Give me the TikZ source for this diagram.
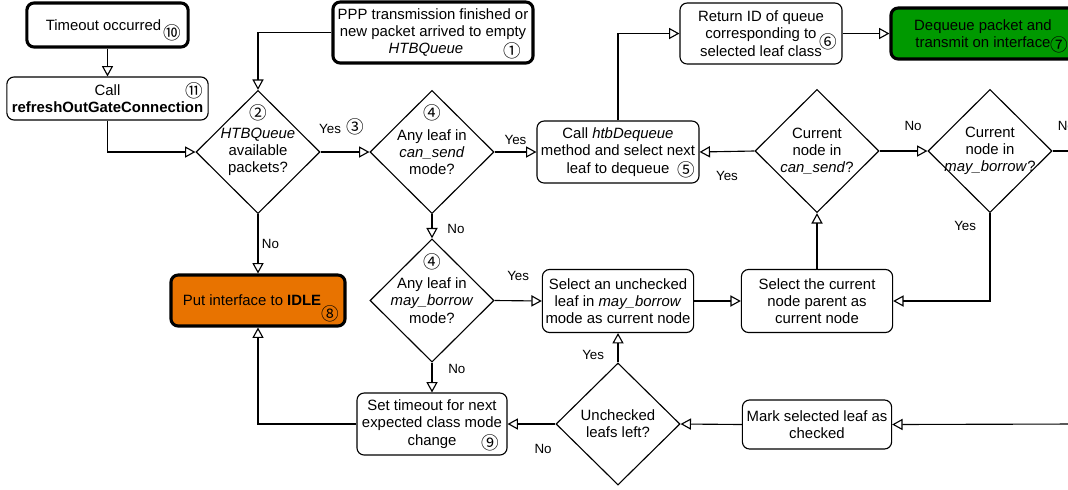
\documentclass[tikz,border=0pt]{standalone}
\usepackage{fontspec}
\setmainfont{Liberation Sans}
\newfontfamily\circfont{Noto Sans CJK SC}
\usepackage{tikz}
\usetikzlibrary{shapes.geometric, arrows.meta}

\definecolor{sendgreen}{RGB}{0,153,0}
\definecolor{idleorange}{RGB}{232,115,0}

\tikzset{
  box/.style={draw, rounded corners=0.18cm, align=center, inner sep=1pt, line width=0.8pt, font=\fontsize{10.6}{12.3}\selectfont},
  event/.style={box, line width=2.2pt},
  decision/.style={diamond, draw, line width=0.8pt, inner sep=0pt, minimum width=3.1cm, minimum height=3.08cm},
  inside/.style={align=center, inner sep=0pt, font=\fontsize{10.6}{12.3}\selectfont},
  num/.style={inner sep=0pt, font=\circfont\fontsize{12.5}{12.5}\selectfont},
  lbl/.style={inner sep=0pt, font=\fontsize{9.5}{11}\selectfont},
  flow/.style={line width=0.8pt, -{Triangle[open, length=0.26cm, width=0.28cm]}}
}

\begin{document}
\begin{tikzpicture}[x=0.025cm, y=-0.025cm]
\useasboundingbox (0,0) rectangle (1068,489);
\clip (0,0) rectangle (1068,489);

% start events
\node[event, minimum width=4.03cm, minimum height=1.1cm] (timeout) at (107.5,25) {Timeout occurred\hspace*{0.2cm}};
\node[event, minimum width=5cm, minimum height=1.525cm] (ppp) at (433,32.5) {PPP transmission finished or\\new packet arrived to empty\\\textit{HTBQueue}\hspace*{0.35cm}};
\node[box, minimum width=5.03cm, minimum height=1.075cm] (refresh) at (107.5,98.5) {Call\\\textbf{refreshOutGateConnection}};

% decisions
\node[decision, label={[inside]center:\textit{HTBQueue}\\available\\packets?}] (hasPkt) at (258,152) {};
\node[decision, label={[inside]center:Any leaf in\\\textit{can\_send}\\mode?}] (canSend) at (432,152) {};
\node[decision, label={[inside]center:Any leaf in\\\textit{may\_borrow}\\mode?}] (mayBorrow) at (432,300.5) {};
\node[decision, label={[inside]center:Current\\node in\\\textit{can\_send}?}] (curCan) at (817,151) {};
\node[decision, label={[inside]center:Current\\node in\\\textit{may\_borrow}?}] (curBorrow) at (990,151) {};
\node[decision, minimum height=3.05cm, label={[inside]center:Unchecked\\leafs left?}] (leftLeafs) at (618,424) {};

% processes
\node[box, minimum width=4.05cm, minimum height=1.55cm] (dequeue) at (618,152) {Call \textit{htbDequeue}\\method and select next\\leaf to dequeue};
\node[box, minimum width=4.05cm, minimum height=1.525cm] (retId) at (761,33.5) {Return ID of queue\\corresponding to\\selected leaf class};
\node[event, fill=sendgreen, minimum width=4.6cm, minimum height=1.275cm] (transmit) at (983,33.5) {Dequeue packet and\\transmit on interface};
\node[event, fill=idleorange, minimum width=4.35cm, minimum height=1.275cm] (idle) at (258,300.5) {Put interface to \textbf{IDLE}\hspace*{0.3cm}};
\node[box, minimum width=3.78cm, minimum height=1.575cm] (selLeaf) at (618,301) {Select an unchecked\\leaf in \textit{may\_borrow}\\mode as current node};
\node[box, minimum width=3.78cm, minimum height=1.575cm] (selParent) at (817,301) {Select the current\\node parent as\\current node};
\node[box, minimum width=3.75cm, minimum height=1.55cm] (setTimeout) at (432,424) {Set timeout for next\\expected class mode\\change};
\node[box, minimum width=3.73cm, minimum height=1.225cm] (markLeaf) at (817,424.5) {Mark selected leaf as\\checked};

% step numbers
\node[num] (n1) at (512,51) {①};
\node[num] (n2) at (258,113) {②};
\node[num] (n4a) at (432,113) {④};
\node[num] (n4b) at (432,262) {④};
\node[num] (n5) at (686,170) {⑤};
\node[num] (n6) at (828,42) {⑥};
\node[num] (n7) at (1059,45) {⑦};
\node[num] (n8) at (330,314) {⑧};
\node[num] (n9) at (490,443) {⑨};
\node[num] (n10) at (172,33) {⑩};
\node[num] (n11) at (194,91) {⑪};

% loose ends at the right border
\coordinate (outR) at (1080,151);
\coordinate (inR) at (1080,424);

% connectors
\draw[flow] (timeout) -- (refresh);
\draw[flow] (refresh.south) |- (hasPkt.west);
\draw[flow] (ppp.west) -| (hasPkt.north);
\draw[flow] (hasPkt.east) -- node[lbl, midway, yshift=0.62cm, xshift=-0.08cm]{Yes \,{\circfont\fontsize{12.5}{12.5}\selectfont ③}} (canSend.west);
\draw[flow] (canSend.east) -- node[lbl, midway, yshift=0.3cm]{Yes} (dequeue.west);
\draw[flow] (dequeue.north) |- (retId.west);
\draw[flow] (retId.east) -- (transmit.west);
\draw[flow] (curCan.west) -- node[lbl, midway, yshift=-0.6cm]{Yes} (dequeue.east);
\draw[flow] (curCan.east) -- node[lbl, pos=0.7, yshift=0.62cm]{No} (curBorrow.west);
\draw[line width=0.8pt] (curBorrow.east) -- node[lbl, midway, yshift=0.62cm]{No} (outR);
\draw[flow] (curBorrow.south) |- node[lbl, pos=0.07, xshift=-0.62cm]{Yes} (selParent.east);
\draw[flow] (selParent.north) -- (curCan.south);
\draw[flow] (selLeaf.east) -- (selParent.west);
\draw[flow] (mayBorrow.east) -- node[lbl, midway, yshift=0.62cm]{Yes} (selLeaf.west);
\draw[flow] (canSend.south) -- node[lbl, midway, xshift=0.6cm, yshift=-0.08cm]{No} (mayBorrow.north);
\draw[flow] (hasPkt.south) -- node[lbl, midway, xshift=0.31cm]{No} (idle.north);
\draw[flow] (mayBorrow.south) -- node[lbl, midway, xshift=0.62cm, yshift=0.21cm]{No} (setTimeout.north);
\draw[flow] (setTimeout.west) -| (idle.south);
\draw[flow] (leftLeafs.west) -- node[lbl, midway, xshift=0.29cm, yshift=-0.62cm]{No} (setTimeout.east);
\draw[flow] (leftLeafs.north) -- node[lbl, midway, xshift=-0.62cm, yshift=-0.18cm]{Yes} (selLeaf.south);
\draw[flow] (markLeaf.west) -- (leftLeafs.east);
\draw[flow] (inR) -- (markLeaf.east);
\end{tikzpicture}
\end{document}
